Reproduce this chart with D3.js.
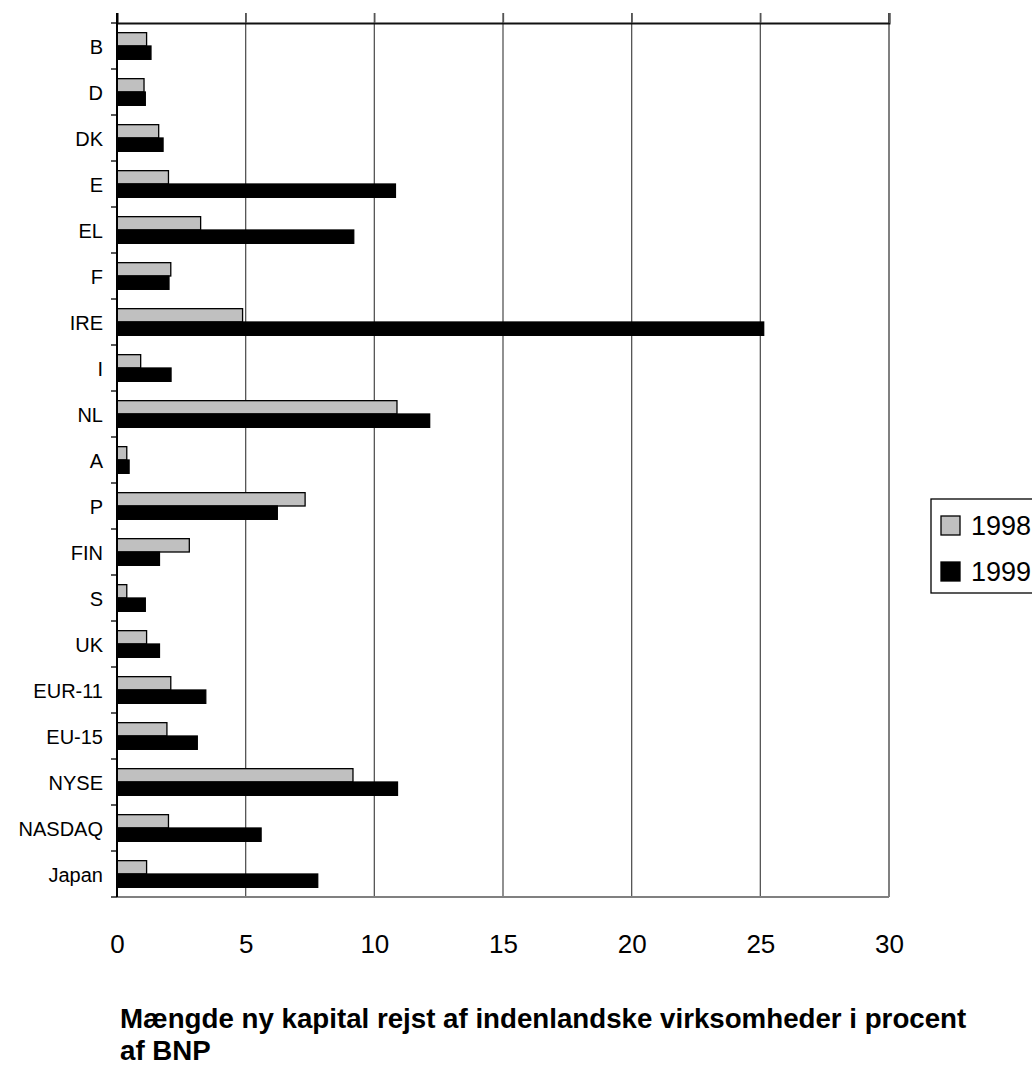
<!DOCTYPE html>
<html>
<head>
<meta charset="utf-8">
<script src="https://cdn.jsdelivr.net/npm/d3@7"></script>
<style>
  body { margin: 0; background: #fff; }
  svg { display: block; font-family: "Liberation Sans", Arial, sans-serif; }
</style>
</head>
<body>
<svg id="chart" width="1032" height="1065"></svg>
<script>
// data
var categories = ["B", "D", "DK", "E", "EL", "F", "IRE", "I", "NL", "A", "P", "FIN", "S", "UK", "EUR-11", "EU-15", "NYSE", "NASDAQ", "Japan"];
var seriesNames = ["1998", "1999"];
var values1998 = [1.15, 1.05, 1.62, 2.0, 3.25, 2.09, 4.88, 0.92, 10.88, 0.38, 7.31, 2.81, 0.38, 1.15, 2.09, 1.94, 9.17, 2.0, 1.15];
var values1999 = [1.32, 1.1, 1.79, 10.82, 9.2, 2.02, 25.13, 2.1, 12.15, 0.47, 6.23, 1.65, 1.1, 1.65, 3.45, 3.12, 10.9, 5.6, 7.8];
var xTicks = [0, 5, 10, 15, 20, 25, 30];
var titleLines = ["Mængde ny kapital rejst af indenlandske virksomheder i procent", "af BNP"];

var colors = {"1998": "#c0c0c0", "1999": "#000000"};

var plotLeft = 117, plotRight = 889, plotTop = 23, plotBottom = 897;

var svg = d3.select("#chart");

var x = d3.scaleLinear().domain([0, 30]).range([plotLeft, plotRight]);
var y = d3.scaleBand().domain(categories).range([plotTop, plotBottom]);
var ySub = d3.scaleBand().domain(seriesNames)
  .range([y.bandwidth() * 0.21, y.bandwidth() * 0.79]);

var rows = categories.map(function(c, i) {
  return {cat: c, vals: [{s: "1998", v: values1998[i]}, {s: "1999", v: values1999[i]}]};
});

// gridlines
svg.append("g").selectAll("line")
  .data(xTicks.slice(1, -1))
  .enter().append("line")
  .attr("x1", function(d) { return x(d); })
  .attr("x2", function(d) { return x(d); })
  .attr("y1", plotTop - 10)
  .attr("y2", plotBottom)
  .style("stroke", "#555")
  .style("stroke-width", "1.3px");

// right and bottom border (grey)
svg.append("line")
  .attr("x1", x(30)).attr("x2", x(30)).attr("y1", plotTop - 10).attr("y2", plotBottom)
  .style("stroke", "#808080").style("stroke-width", "2px");
svg.append("line")
  .attr("x1", plotLeft).attr("x2", x(30)).attr("y1", plotBottom).attr("y2", plotBottom)
  .style("stroke", "#808080").style("stroke-width", "2px");

// bars
var groups = svg.append("g").selectAll("g")
  .data(rows)
  .enter().append("g")
  .attr("transform", function(d) { return "translate(0," + y(d.cat) + ")"; });

groups.selectAll("rect")
  .data(function(d) { return d.vals; })
  .enter().append("rect")
  .attr("x", x(0))
  .attr("y", function(d) { return ySub(d.s); })
  .attr("width", function(d) { return x(d.v) - x(0); })
  .attr("height", ySub.bandwidth())
  .style("fill", function(d) { return colors[d.s]; })
  .style("stroke", "#000")
  .style("stroke-width", "1.3px");

// top axis (ticks only)
var topAxis = d3.axisTop(x).tickValues(xTicks).tickSize(10).tickFormat("");
var gTop = svg.append("g").attr("transform", "translate(0," + plotTop + ")").call(topAxis);
gTop.select(".domain").attr("stroke", "#111").attr("stroke-width", 2);
gTop.selectAll(".tick line").attr("stroke", "#555").attr("stroke-width", 1.3);

// left axis
var leftAxis = d3.axisLeft(y).tickSize(0).tickPadding(14);
var gLeft = svg.append("g").attr("transform", "translate(" + plotLeft + ",0)").call(leftAxis);
gLeft.select(".domain").remove();
gLeft.selectAll("text")
  .style("font-size", "20px")
  .style("font-family", "Liberation Sans, Arial, sans-serif")
  .attr("dy", "0.38em")
  .attr("fill", "#000");
svg.append("line")
  .attr("x1", plotLeft).attr("x2", plotLeft).attr("y1", plotTop - 10).attr("y2", plotBottom)
  .style("stroke", "#000").style("stroke-width", "2px");
var boundaries = categories.map(function(c) { return y(c); }).concat([plotBottom]);
svg.append("g").selectAll("line")
  .data(boundaries)
  .enter().append("line")
  .attr("x1", plotLeft - 6).attr("x2", plotLeft)
  .attr("y1", function(d) { return d; }).attr("y2", function(d) { return d; })
  .style("stroke", "#000").style("stroke-width", "1.3px");

// tick labels below
var bottomAxis = d3.axisBottom(x).tickValues(xTicks).tickSize(0).tickPadding(0);
var gBot = svg.append("g").attr("transform", "translate(0,953)").call(bottomAxis);
gBot.select(".domain").remove();
gBot.selectAll("text")
  .attr("dy", 0).attr("y", 0)
  .style("font-size", "26px")
  .style("font-family", "Liberation Sans, Arial, sans-serif")
  .attr("fill", "#000");

// title
svg.append("g").selectAll("text")
  .data(titleLines)
  .enter().append("text")
  .attr("x", 120)
  .attr("y", function(d, i) { return 1028 + i * 32; })
  .style("font-size", "27.7px")
  .style("font-weight", "bold")
  .text(function(d) { return d; });

// legend
var legend = svg.append("g").attr("transform", "translate(931,499)");
legend.append("rect")
  .attr("x", 0).attr("y", 0).attr("width", 130).attr("height", 94)
  .style("fill", "#fff").style("stroke", "#000").style("stroke-width", "1.3px");
var items = legend.selectAll("g.item")
  .data(seriesNames)
  .enter().append("g")
  .attr("class", "item")
  .attr("transform", function(d, i) { return "translate(10," + (17 + i * 46) + ")"; });
items.append("rect")
  .attr("width", 19).attr("height", 19)
  .style("fill", function(d) { return colors[d]; })
  .style("stroke", "#000").style("stroke-width", "1.3px");
items.append("text")
  .attr("x", 30).attr("y", 19)
  .style("font-size", "27px")
  .text(function(d) { return d; });
</script>
</body>
</html>
